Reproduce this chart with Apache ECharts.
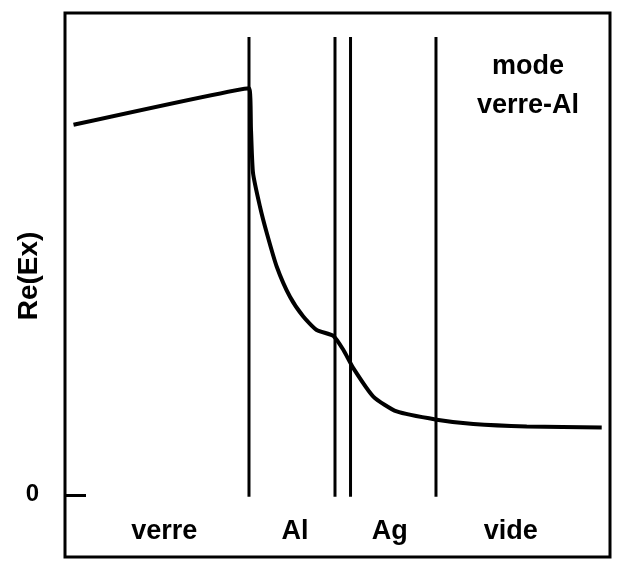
<!DOCTYPE html>
<html>
<head>
<meta charset="utf-8">
<script src="https://cdn.jsdelivr.net/npm/echarts@6/dist/echarts.min.js"></script>
<style>
  html, body { margin: 0; padding: 0; background: #fff; }
  #chart { width: 621px; height: 565px; }
</style>
</head>
<body>
<div id="chart"></div>
<script>
// position across the stack (0..100) and Re(Ex) (0 at the tick)
const curveX = [1.56, 33.76, 34.13, 34.50, 35.78, 37.01, 38.84, 41.28, 43.72, 46.18, 49.23, 51.06, 52.90, 56.57, 60.86, 68.2, 74.92, 84.72, 98.48]
const curveY = [0.768, 0.844, 0.757, 0.668, 0.598, 0.544, 0.474, 0.411, 0.370, 0.342, 0.330, 0.301, 0.263, 0.204, 0.173, 0.156, 0.147, 0.142, 0.140]

// interfaces verre|Al, Al|Ag (double line), Ag|vide
const boundaries = [33.76, 49.54, 52.39, 68.07]
const boundaryTop = 0.95
const boundaryBottom = -0.004

const layerNames = ['verre', 'Al', 'Ag', 'vide']
const layerCenters = [18.2, 42.2, 59.6, 81.8]

const yTicks = [0]

const chart = echarts.init(document.getElementById('chart'))
const font = '"Liberation Sans", Arial, Helvetica, sans-serif'

const boundarySeries = boundaries.map(b => ({
  type: 'line',
  data: [[b, boundaryBottom], [b, boundaryTop]],
  symbol: 'none',
  silent: true,
  lineStyle: { color: '#000', width: 3 }
}))

chart.setOption({
  animation: false,
  backgroundColor: '#fff',
  grid: {
    left: 65, right: 11, top: 13, bottom: 8,
    containLabel: false, outerBoundsMode: 'none',
    show: true, borderColor: '#000', borderWidth: 3
  },
  xAxis: {
    type: 'value', min: 0, max: 100,
    axisLine: { show: false },
    axisTick: { show: false },
    splitLine: { show: false },
    axisLabel: {
      customValues: layerCenters,
      inside: true, margin: 12,
      color: '#000', fontFamily: font, fontSize: 27, fontWeight: 'bold',
      formatter: v => {
        let best = 0
        layerCenters.forEach((c, i) => { if (Math.abs(c - v) < Math.abs(layerCenters[best] - v)) best = i })
        return layerNames[best]
      }
    }
  },
  yAxis: {
    type: 'value', min: -0.129, max: 1,
    axisLine: { show: false },
    splitLine: { show: false },
    axisTick: {
      show: true, customValues: yTicks, inside: true, length: 21,
      lineStyle: { color: '#000', width: 3 }
    },
    axisLabel: {
      customValues: yTicks, margin: 26,
      color: '#000', fontFamily: font, fontSize: 24, fontWeight: 'bold'
    }
  },
  graphic: [{
    type: 'text', x: 528, y: 86,
    style: {
      text: 'mode\nverre-Al', textAlign: 'center', textVerticalAlign: 'middle',
      fill: '#000', font: 'bold 27px ' + font, lineHeight: 39
    }
  }, {
    type: 'text', x: 29, y: 276, rotation: Math.PI / 2,
    style: {
      text: 'Re(Ex)', textAlign: 'center', textVerticalAlign: 'middle',
      fill: '#000', font: 'bold 28px ' + font
    }
  }],
  series: [{
    type: 'line',
    data: curveX.map((x, i) => [x, curveY[i]]),
    symbol: 'none',
    smooth: 0.2,
    lineStyle: { color: '#000', width: 4 }
  }, ...boundarySeries]
})
</script>
</body>
</html>
